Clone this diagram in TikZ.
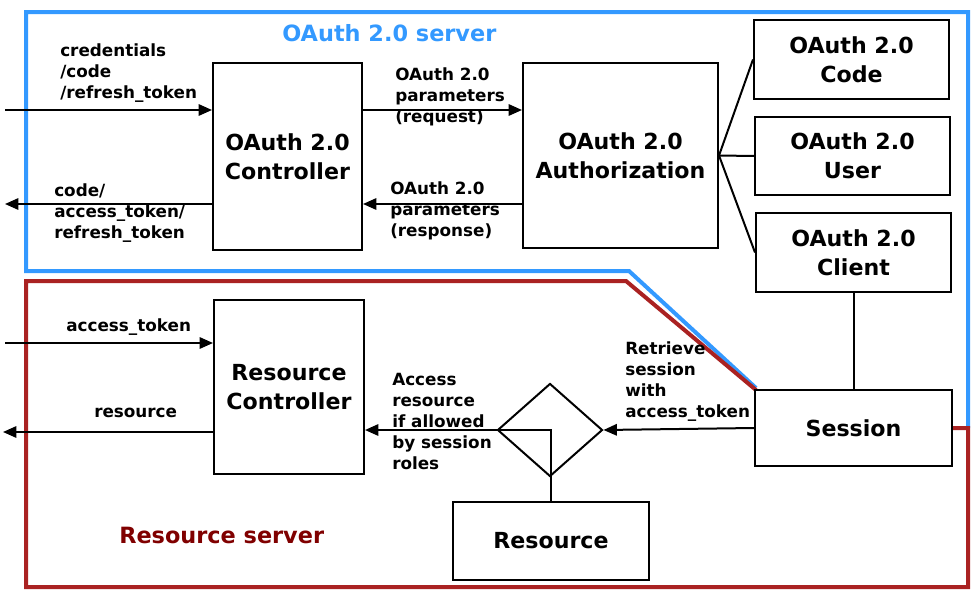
\documentclass[tikz,border=0pt]{standalone}
\usepackage{fontspec}
\setmainfont{DejaVu Sans}
\usepackage{xcolor}
\usetikzlibrary{arrows.meta}
\usetikzlibrary{shapes.geometric}

\definecolor{serverblue}{RGB}{51,153,255}
\definecolor{serverred}{RGB}{170,34,34}
\definecolor{titlered}{RGB}{128,0,0}
\newcommand{\boxfont}{\bfseries\fontsize{16.6}{21.75}\selectfont}
\newcommand{\lblfont}{\bfseries\fontsize{12.6}{15.75}\selectfont}
\newcommand{\titlefont}{\bfseries\fontsize{16.8}{20}\selectfont}

\begin{document}
\begin{tikzpicture}[x=0.75pt,y=-0.75pt,
    >={Triangle[length=10pt,width=8.5pt]},
    box/.style = {rectangle, draw=black, fill=white, line width=1.5pt,
                  align=center, inner sep=0pt, font=\boxfont},
    sidebox/.style = {box, minimum width=146.25pt, minimum height=59pt},
    lbl/.style = {anchor=west, align=left, inner sep=0pt, font=\lblfont},
    conn/.style = {line width=1.5pt},
    border/.style = {line width=3pt, line join=miter}]
  \useasboundingbox (0,0) rectangle (978,600);

  % server boundaries
  \draw[border, serverblue] (968,428) -- (968,12) -- (26,12) -- (26,271)
    -- (629,271) -- (756,388);
  \draw[border, serverred] (952,428) -- (968,428) -- (968,587) -- (26,587)
    -- (26,281) -- (626,281) -- (756,390);
  \node (srvtitle) [anchor=west, inner sep=0pt, font=\titlefont,
    text=serverblue] at (282,33) {OAuth 2.0 server};
  \node (restitle) [anchor=west, inner sep=0pt, font=\titlefont,
    text=titlered] at (119,535) {Resource server};

  % boxes
  \node (ctrl) [box, minimum width=111.75pt, minimum height=140.25pt]
    at (287.5,156.5) {OAuth 2.0\\Controller};
  \node (auth) [box, minimum width=146.25pt, minimum height=138.75pt]
    at (620.5,155.5) {OAuth 2.0\\Authorization};
  \node (code) [sidebox] at (851.5,59.5) {OAuth 2.0\\Code};
  \node (user) [sidebox] at (852.5,156) {OAuth 2.0\\User};
  \node (client) [sidebox] at (853.5,252.5) {OAuth 2.0\\Client};
  \node (session) [sidebox, minimum width=147.75pt, minimum height=57pt]
    at (853.5,428) {Session};
  \node (rctrl) [box, minimum width=112.5pt, minimum height=130.5pt]
    at (289,387) {Resource\\Controller};
  \node (res) [sidebox, minimum width=147pt, minimum height=58.5pt]
    at (551,541) {Resource};
  \node (gate) [diamond, draw=black, fill=white, line width=1.5pt, inner sep=0pt,
    minimum width=78.75pt, minimum height=69.75pt] at (550,430) {};

  % free ends
  \coordinate (cin) at (5,110);
  \coordinate (cout) at (5,204);
  \coordinate (tin) at (5,343);
  \coordinate (tout) at (3,432);

  % connectors
  \draw[conn,->] (cin) -- (cin -| ctrl.west);
  \draw[conn,->] (ctrl.west |- cout) -- (cout);
  \draw[conn,->] (ctrl.east |- cin) -- (auth.west |- cin);
  \draw[conn,->] (auth.west |- cout) -- (ctrl.east |- cout);
  \draw[conn] (auth.east) -- (code.west);
  \draw[conn] (auth.east) -- (user.west);
  \draw[conn] (auth.east) -- (client.west);
  \draw[conn] (client.south) -- (session.north);
  \draw[conn,->] (session.west) -- (gate.east);
  \draw[conn,->] (gate.west) -- (gate.west -| rctrl.east);
  \draw[conn] (res.north) |- (gate.west);
  \draw[conn,->] (tin) -- (tin -| rctrl.west);
  \draw[conn,->] (rctrl.west |- tout) -- (tout);

  % labels
  \node (lcred) [lbl] at (60,73) {credentials\\/code\\/refresh\_token};
  \node (lcode) [lbl] at (54,213) {code/\\access\_token/\\refresh\_token};
  \node (lreq) [lbl] at (395,97) {OAuth 2.0\\parameters\\(request)};
  \node (lresp) [lbl] at (390,211) {OAuth 2.0\\parameters\\(response)};
  \node (ltok) [lbl] at (66,327) {access\_token};
  \node (lres) [lbl] at (94,413) {resource};
  \node (lget) [lbl] at (625,381.5) {Retrieve\\session\\with\\access\_token};
  \node (lacc) [lbl] at (392,421) {Access\\resource\\if allowed\\by session\\roles};
\end{tikzpicture}
\end{document}
